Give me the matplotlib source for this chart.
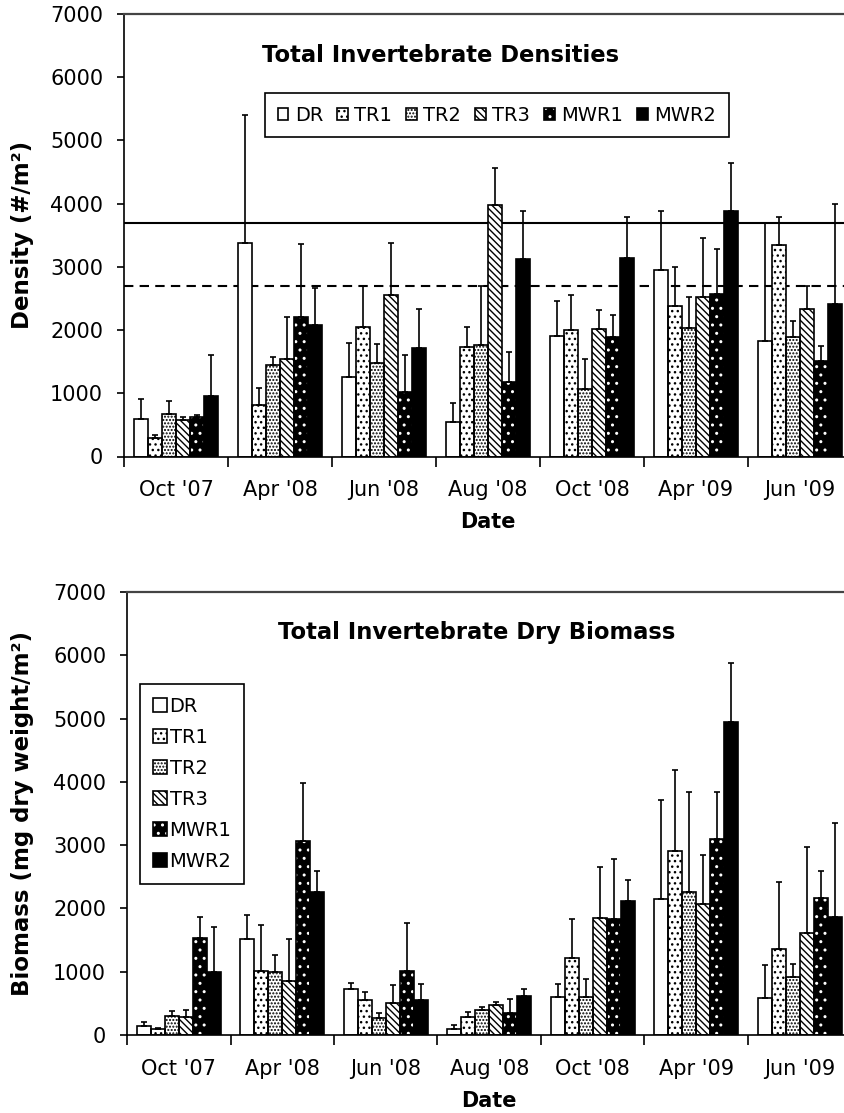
import matplotlib
matplotlib.use("Agg")
import matplotlib.pyplot as plt
import numpy as np
from matplotlib.legend_handler import HandlerTuple

plt.rcParams['font.family'] = ['DejaVu Sans']
plt.rcParams['hatch.linewidth'] = 1.0

# ---------------- data ----------------
dates = ["Oct '07", "Apr '08", "Jun '08", "Aug '08", "Oct '08", "Apr '09", "Jun '09"]
series = ["DR", "TR1", "TR2", "TR3", "MWR1", "MWR2"]

dens_DR   = [590, 3370, 1260, 550, 1910, 2950, 1830]
dens_TR1  = [290, 820, 2050, 1730, 2000, 2380, 3340]
dens_TR2  = [680, 1450, 1480, 1770, 1070, 2030, 1890]
dens_TR3  = [580, 1540, 2550, 3980, 2020, 2530, 2340]
dens_MWR1 = [620, 2210, 1020, 1180, 1890, 2570, 1510]
dens_MWR2 = [950, 2080, 1710, 3120, 3140, 3890, 2410]

dens_err_DR   = [320, 2030, 540, 300, 555, 940, 1860]
dens_err_TR1  = [50, 260, 640, 320, 550, 610, 450]
dens_err_TR2  = [200, 130, 295, 920, 480, 490, 250]
dens_err_TR3  = [40, 660, 830, 590, 300, 920, 350]
dens_err_MWR1 = [40, 1150, 590, 480, 350, 710, 240]
dens_err_MWR2 = [660, 580, 630, 760, 650, 750, 1580]

dens_solid_line = 3700
dens_dashed_line = 2700

bio_DR   = [147, 1517, 721, 95, 605, 2150, 590]
bio_TR1  = [100, 1011, 560, 280, 1211, 2913, 1359]
bio_TR2  = [305, 1000, 274, 400, 605, 2254, 921]
bio_TR3  = [287, 848, 500, 470, 1843, 2070, 1617]
bio_MWR1 = [1527, 3070, 1016, 340, 1833, 3097, 2170]
bio_MWR2 = [1000, 2265, 553, 618, 2117, 4940, 1870]

bio_err_DR   = [53, 384, 95, 63, 195, 1563, 516]
bio_err_TR1  = [16, 722, 114, 85, 617, 1274, 1064]
bio_err_TR2  = [77, 264, 68, 50, 275, 1580, 201]
bio_err_TR3  = [113, 664, 295, 50, 817, 774, 1359]
bio_err_MWR1 = [337, 906, 748, 230, 948, 737, 427]
bio_err_MWR2 = [706, 326, 258, 104, 332, 933, 1474]

yticks = [0, 1000, 2000, 3000, 4000, 5000, 6000, 7000]

dens_means = [dens_DR, dens_TR1, dens_TR2, dens_TR3, dens_MWR1, dens_MWR2]
dens_errs = [dens_err_DR, dens_err_TR1, dens_err_TR2, dens_err_TR3, dens_err_MWR1, dens_err_MWR2]
bio_means = [bio_DR, bio_TR1, bio_TR2, bio_TR3, bio_MWR1, bio_MWR2]
bio_errs = [bio_err_DR, bio_err_TR1, bio_err_TR2, bio_err_TR3, bio_err_MWR1, bio_err_MWR2]

# ---------------- styles ----------------
styles = {
    "DR":   dict(face="white", hatch=None, hcol="black"),
    "TR1":  dict(face="white", hatch="...", hcol="black"),
    "TR2":  dict(face="white", hatch=".....", hcol="black"),
    "TR3":  dict(face="white", hatch="\\\\\\\\\\", hcol="black"),
    "MWR1": dict(face="black", hatch="..", hcol="white"),
    "MWR2": dict(face="black", hatch=None, hcol="black"),
}

W, H = 845, 1113
fig = plt.figure(figsize=(W / 100, H / 100), dpi=100)
ax1 = fig.add_axes([124 / W, 1 - 456.5 / H, 728 / W, 442.5 / H])
ax2 = fig.add_axes([127 / W, 1 - 1035 / H, 724.5 / W, 443 / H])

width = 0.135
x = np.arange(len(dates))


def draw(ax, means, errs):
    handles = []
    for i, name in enumerate(series):
        st = styles[name]
        xs = x + (i - 2.5) * width
        b1 = ax.bar(xs, means[i], width, color=st["face"], edgecolor=st["hcol"],
                    hatch=st["hatch"], linewidth=0, zorder=2)
        b2 = ax.bar(xs, means[i], width, fill=False, edgecolor="black",
                    linewidth=1.2, zorder=3)
        ax.errorbar(xs, means[i], yerr=[np.zeros(len(dates)), errs[i]], fmt="none",
                    ecolor="black", elinewidth=1.2, capsize=2.3, capthick=1.2, zorder=4)
        handles.append((b1, b2))
    ax.set_xlim(-0.5, len(dates) - 0.5)
    ax.set_ylim(0, 7000)
    ax.set_yticks(yticks)
    ax.set_xticks(x)
    ax.set_xticklabels(dates)
    ax.set_xticks(np.arange(-0.5, len(dates), 1), minor=True)
    ax.tick_params(axis="x", which="major", length=0, pad=17, labelsize=15)
    ax.tick_params(axis="x", which="minor", length=7, width=1.2, direction="out")
    ax.tick_params(axis="y", length=5, width=1.2, pad=10, labelsize=15)
    ax.spines["right"].set_visible(False)
    ax.spines["left"].set_linewidth(1.2)
    ax.spines["bottom"].set_linewidth(1.2)
    ax.spines["top"].set_linewidth(1.6)
    ax.spines["top"].set_color("#444444")
    return handles


h1 = draw(ax1, dens_means, dens_errs)
ax1.axhline(dens_solid_line, color="black", lw=1.5, zorder=1.5)
ax1.axhline(dens_dashed_line, color="black", lw=1.5, ls=(0, (4.5, 3)), zorder=1.5)
h2 = draw(ax2, bio_means, bio_errs)

ax1.set_ylabel("Density (#/m²)", fontsize=16.5, fontweight="bold")
ax2.set_ylabel("Biomass (mg dry weight/m²)", fontsize=16.5, fontweight="bold")
ax1.yaxis.set_label_coords((34 - 124) / 728, 0.5)
ax2.yaxis.set_label_coords((34 - 127) / 724.5, 0.5)
ax1.set_xlabel("Date", fontsize=15, fontweight="bold")
ax2.set_xlabel("Date", fontsize=15, fontweight="bold")
ax1.xaxis.set_label_coords(0.5, (456.5 - 512) / 442.5)
ax2.xaxis.set_label_coords(0.5, (1035 - 1091) / 443)

fig.text(440.5 / W, 1 - 55 / H, "Total Invertebrate Densities", ha="center", va="center",
         fontsize=16.3, fontweight="bold")
fig.text(477 / W, 1 - 632 / H, "Total Invertebrate Dry Biomass", ha="center", va="center",
         fontsize=16.3, fontweight="bold")

common = dict(handler_map={tuple: HandlerTuple(ndivide=1, pad=0)}, fontsize=14,
              fancybox=False, framealpha=1, edgecolor="black", borderaxespad=0,
              bbox_transform=fig.transFigure, loc="upper left")
leg1 = ax1.legend(h1, series, ncol=6, columnspacing=0.72, borderpad=0.65,
                  handlelength=0.55, handleheight=0.55, handletextpad=0.33,
                  bbox_to_anchor=(265 / W, 1 - 93 / H), **common)
leg1.get_frame().set_linewidth(1.2)
leg2 = ax2.legend(h2, series, ncol=1, labelspacing=0.62, borderpad=0.65,
                  handlelength=0.72, handleheight=0.72, handletextpad=0.15,
                  bbox_to_anchor=(140 / W, 1 - 684 / H), **common)
leg2.get_frame().set_linewidth(1.2)

fig.savefig("out.png", dpi=100)
